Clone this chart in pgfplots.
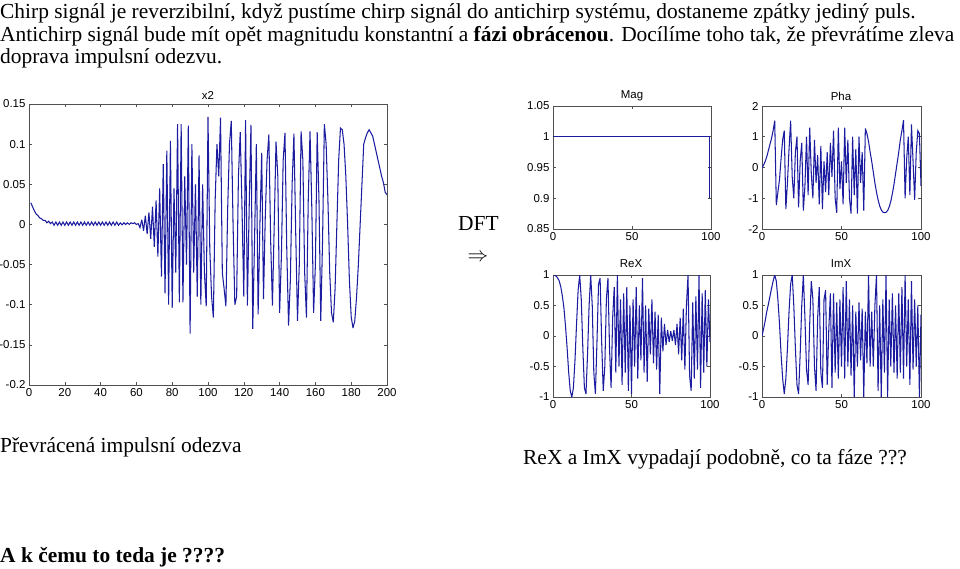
\documentclass[border=0pt]{standalone}
\usepackage{fontspec}
\setmainfont{Liberation Serif}
\setsansfont{Liberation Sans}
\usepackage{pgfplots}
\pgfplotsset{compat=1.18}

\definecolor{mlblue}{RGB}{28,28,160}
\definecolor{mlaxis}{RGB}{80,80,80}

\pgfplotsset{
  ml/.style={
    scale only axis,
    anchor=south west,
    axis line style={mlaxis, line width=0.7bp},
    tick align=inside,
    major tick length=3bp,
    tick style={mlaxis, line width=0.6bp},
    ticklabel style={font=\sffamily\fontsize{11.5}{11.5}\selectfont},
    /pgf/number format/assume math mode=true,
    no marks,
  },
  sig/.style={mlblue, line width=1.05bp, line join=miter, miter limit=4},
}

\begin{document}
\begin{tikzpicture}
\useasboundingbox (0,0) rectangle (960bp,-569bp);

% text of the slide
\begin{scope}[every node/.style={anchor=base west, inner sep=0pt, font=\fontsize{21.5}{22}\selectfont}]
\node at (0bp,-18.5bp) {Chirp signál je reverzibilní, když pustíme chirp signál do antichirp systému, dostaneme zpátky jediný puls.};
\node at (0bp,-41bp) {Antichirp signál bude mít opět magnitudu konstantní a \textbf{fázi obrácenou}. Docílíme toho tak, že převrátíme zleva};
\node at (0bp,-63.5bp) {doprava impulsní odezvu.};
\node at (458bp,-230bp) {DFT};
\node at (0bp,-452bp) {Převrácená impulsní odezva};
\node at (523bp,-464.5bp) {ReX a ImX vypadají podobně, co ta fáze ???};
\node at (0bp,-562bp) {\textbf{A k čemu to teda je ????}};
\end{scope}
\node[inner sep=0pt, font=\fontsize{21.5}{22}\selectfont] at (478bp,-258bp) {$\Rightarrow$};

% plot titles
\begin{scope}[every node/.style={inner sep=0pt, font=\sffamily\fontsize{11.5}{11.5}\selectfont}]
\node at (208bp,-95bp) {x2};
\node at (632bp,-96bp) {Mag};
\node at (841bp,-96bp) {Pha};
\node at (631bp,-264bp) {ReX};
\node at (841bp,-264bp) {ImX};
\end{scope}

% x2: reversed impulse response
\begin{axis}[ml, at={(29bp,-385bp)}, width=358bp, height=281bp,
  xmin=0, xmax=200, ymin=-0.2, ymax=0.15,
  xtick={0,20,...,200},
  ytick={-0.2,-0.15,-0.1,-0.05,0,0.05,0.1,0.15},
  yticklabels={-0.2,-0.15,-0.1,-0.05,0,0.05,0.1,0.15}]
\addplot[sig] coordinates {
(1,0.027)(2,0.022)(3,0.017)(4,0.013)(5,0.011)(6,0.008)(7,0.007)(8,0.005)(9,0.005)(10,0.002)
(11,0.004)(12,0.001)(13,0.003)(14,-0.001)(15,0.003)(16,-0.001)(17,0.003)(18,-0.001)(19,0.003)(20,-0.001)
(21,0.003)(22,-0.001)(23,0.003)(24,-0.001)(25,0.003)(26,-0.001)(27,0.003)(28,-0.001)(29,0.003)(30,-0.001)
(31,0.003)(32,-0.001)(33,0.003)(34,-0.001)(35,0.003)(36,-0.001)(37,0.003)(38,-0.001)(39,0.003)(40,-0.001)
(41,0.003)(42,-0.001)(43,0.003)(44,-0.001)(45,0.003)(46,-0.001)(47,0.003)(48,-0.001)(49,0.003)(50,-0.001)
(51,0.002)(52,-0.0005)(53,0.002)(54,0)(55,0.002)(56,0)(57,0.002)(58,0.001)(59,0.002)(60,0)
(61,0.001)(62,-0.004)(63,0.006)(64,-0.008)(65,0.011)(66,-0.012)(67,0.015)(68,-0.018)(69,0.022)(70,-0.028)
(71,0.030)(72,-0.040)(73,0.045)(74,-0.065)(75,0.075)(76,-0.086)(77,0.092)(78,-0.100)(79,0.104)(80,-0.104)
(81,0.045)(82,-0.060)(83,0.125)(84,-0.097)(85,0.125)(86,-0.097)(87,0.060)(88,-0.050)(89,0.123)(90,-0.136)
(91,0.100)(92,-0.060)(93,0.050)(94,-0.090)(95,0.086)(96,-0.100)(97,0.050)(98,-0.060)(99,-0.102)(100,0.134)
(101,-0.030)(102,-0.090)(103,-0.116)(104,0.030)(105,0.100)(106,0.060)(107,0.133)(108,-0.060)(109,-0.080)(110,-0.102)
(111,0.020)(112,0.100)(113,0.129)(114,0)(115,-0.100)(116,-0.090)(117,0.060)(118,0.115)(119,0.020)(120,-0.090)
(121,0.130)(122,-0.101)(123,0.020)(124,0.124)(125,-0.130)(126,-0.020)(127,0.100)(128,-0.112)(129,0)(130,0.089)
(131,-0.093)(132,0.010)(133,0.080)(134,0.112)(135,-0.020)(136,-0.101)(137,0)(138,0.103)(139,0.060)(140,-0.110)
(141,-0.040)(142,0.080)(143,0.114)(144,-0.030)(145,-0.126)(146,-0.070)(147,0.050)(148,0.113)(149,-0.010)(150,-0.120)
(151,-0.050)(152,0.116)(153,0.080)(154,-0.060)(155,-0.116)(156,0.030)(157,0.116)(158,0.020)(159,-0.110)(160,-0.050)
(161,0.115)(162,0.030)(163,-0.120)(164,-0.020)(165,0.125)(166,0.100)(167,0.030)(168,-0.060)(169,-0.110)(170,-0.122)
(171,-0.080)(172,0)(173,0.080)(174,0.120)(175,0.118)(176,0.100)(177,0.060)(178,0)(179,-0.070)(180,-0.115)
(181,-0.129)(182,-0.120)(183,-0.090)(184,-0.050)(185,0)(186,0.050)(187,0.100)(188,0.108)(189,0.114)(190,0.118)
(191,0.114)(192,0.110)(193,0.100)(194,0.090)(195,0.080)(196,0.070)(197,0.060)(198,0.052)(199,0.040)(200,0.037)
};
\end{axis}

% Mag
\begin{axis}[ml, at={(553bp,-229bp)}, width=158bp, height=123bp,
  xmin=0, xmax=100, ymin=0.85, ymax=1.05,
  xtick={0,50,100},
  ytick={0.85,0.9,0.95,1,1.05},
  yticklabels={0.85,0.9,0.95,1,1.05}]
\addplot[sig] coordinates {(0,1)(99.2,1)(99.2,0.9)};
\end{axis}

% Pha
\begin{axis}[ml, at={(762bp,-229bp)}, width=159bp, height=123bp,
  xmin=0, xmax=100, ymin=-2, ymax=2,
  xtick={0,50,100},
  ytick={-2,-1,0,1,2},
  yticklabels={-2,-1,0,1,2}]
\addplot[sig] coordinates {
(0,0)(1,0.08)(2,0.2)(3,0.35)(4,0.55)(5,0.75)(6,0.95)(7,1.2)(8,1.52)(9,-1.22)
(10,-0.8)(11,-0.4)(12,0.3)(13,0.9)(14,1.2)(15,-1.35)(16,-0.5)(17,0.6)(18,1.52)(19,-0.3)
(20,-1.0)(21,0.5)(22,1.0)(23,-1.3)(24,0.2)(25,0.8)(26,-1.4)(27,-0.6)(28,1.0)(29,-0.9)
(30,1.3)(31,-0.2)(32,-1.0)(33,0.9)(34,-0.5)(35,0.4)(36,-1.2)(37,0.7)(38,-1.35)(39,0.2)
(40,-0.8)(41,0.5)(42,-0.9)(43,0.8)(44,-0.3)(45,1.2)(46,-1.0)(47,-1.47)(48,1.3)(49,-0.7)
(50,0.2)(51,-1.2)(52,1.3)(53,-0.5)(54,0.9)(55,-1.0)(56,-1.5)(57,1.0)(58,-0.9)(59,0.6)
(60,-1.5)(61,1.0)(62,-0.5)(63,0.5)(64,-1.4)(65,1.27)(66,1.1)(67,0.85)(68,0.5)(69,0.2)
(70,-0.15)(71,-0.5)(72,-0.8)(73,-1.05)(74,-1.25)(75,-1.38)(76,-1.45)(77,-1.47)(78,-1.46)(79,-1.4)
(80,-1.28)(81,-1.1)(82,-0.85)(83,-0.55)(84,-0.2)(85,0.15)(86,0.5)(87,0.9)(88,1.2)(89,1.54)
(90,-1.0)(91,0.3)(92,1.0)(93,-0.9)(94,1.4)(95,0.2)(96,-1.05)(97,0.5)(98,1.2)(99,1.1)(100,-0.6)
};
\end{axis}

% ReX
\begin{axis}[ml, at={(553bp,-397bp)}, width=157bp, height=122bp,
  xmin=0, xmax=100, ymin=-1, ymax=1,
  xtick={0,50,100},
  ytick={-1,-0.5,0,0.5,1},
  yticklabels={-1,-0.5,0,0.5,1}]
\addplot[sig] coordinates {
(0,1.0)(1,1.0)(2,0.98)(3,0.95)(4,0.9)(5,0.8)(6,0.65)(7,0.45)(8,0.15)(9,-0.2)
(10,-0.6)(11,-0.9)(12,-1.0)(13,-0.85)(14,-0.4)(15,0.2)(16,0.75)(17,1.0)(18,0.6)(19,-0.2)
(20,-0.85)(21,-0.95)(22,-0.3)(23,0.5)(24,1.0)(25,0.5)(26,-0.6)(27,-0.95)(28,-0.1)(29,0.85)
(30,0.95)(31,-0.1)(32,-0.9)(33,-0.5)(34,0.6)(35,0.95)(36,-0.2)(37,-0.85)(38,0.3)(39,0.8)
(40,-0.6)(41,1.0)(42,-0.5)(43,0.6)(44,-0.8)(45,0.7)(46,-0.6)(47,0.8)(48,-0.9)(49,0.5)
(50,-0.95)(51,0.6)(52,-0.5)(53,0.8)(54,-0.7)(55,0.5)(56,-0.4)(57,0.95)(58,-0.6)(59,0.5)
(60,-0.75)(61,0.45)(62,-0.3)(63,0.6)(64,-0.45)(65,0.4)(66,-0.55)(67,0.35)(68,-0.95)(69,0.3)
(70,-0.25)(71,0.2)(72,-0.15)(73,0.1)(74,-0.1)(75,0.08)(76,-0.08)(77,0.1)(78,-0.15)(79,0.2)
(80,-0.3)(81,0.3)(82,-0.4)(83,0.45)(84,-0.55)(85,0.5)(86,1.0)(87,-0.65)(88,-0.9)(89,0.55)
(90,-0.7)(91,0.65)(92,-0.55)(93,1.0)(94,-0.85)(95,0.7)(96,-0.6)(97,0.75)(98,-0.5)(99,0.6)(100,-0.1)
};
\end{axis}

% ImX
\begin{axis}[ml, at={(762bp,-397bp)}, width=159bp, height=122bp,
  xmin=0, xmax=100, ymin=-1, ymax=1,
  xtick={0,50,100},
  ytick={-1,-0.5,0,0.5,1},
  yticklabels={-1,-0.5,0,0.5,1}]
\addplot[sig] coordinates {
(0,0)(1,0.12)(2,0.25)(3,0.4)(4,0.52)(5,0.65)(6,0.78)(7,0.9)(8,1.0)(9,0.9)
(10,0.6)(11,0.2)(12,-0.3)(13,-0.7)(14,-0.95)(15,-0.7)(16,-0.2)(17,0.4)(18,0.85)(19,1.0)
(20,0.5)(21,-0.2)(22,-0.8)(23,-0.95)(24,-0.3)(25,0.5)(26,1.0)(27,0.3)(28,-0.55)(29,-0.8)
(30,0.2)(31,0.9)(32,0.6)(33,-0.5)(34,-0.9)(35,0.3)(36,0.8)(37,-0.6)(38,-0.85)(39,0.6)
(40,0.75)(41,-0.8)(42,0.1)(43,0.7)(44,-0.85)(45,0.7)(46,-0.6)(47,0.55)(48,-0.7)(49,0.6)
(50,-0.5)(51,0.8)(52,-0.7)(53,0.9)(54,-0.5)(55,0.6)(56,-0.65)(57,0.5)(58,-1.0)(59,0.4)
(60,-0.5)(61,0.55)(62,-0.4)(63,0.45)(64,-1.0)(65,0.4)(66,-0.45)(67,1.0)(68,-0.5)(69,0.4)
(70,-0.5)(71,0.5)(72,1.0)(73,-0.9)(74,0.5)(75,-1.0)(76,0.6)(77,-0.6)(78,1.0)(79,-1.0)
(80,0.6)(81,-0.5)(82,0.7)(83,-0.6)(84,0.5)(85,-0.7)(86,0.7)(87,-0.6)(88,0.8)(89,-0.7)
(90,1.0)(91,-0.5)(92,0.6)(93,-0.8)(94,0.9)(95,-0.55)(96,0.6)(97,-0.5)(98,0.5)(99,-1.0)(100,0.35)
};
\end{axis}
\end{tikzpicture}
\end{document}
